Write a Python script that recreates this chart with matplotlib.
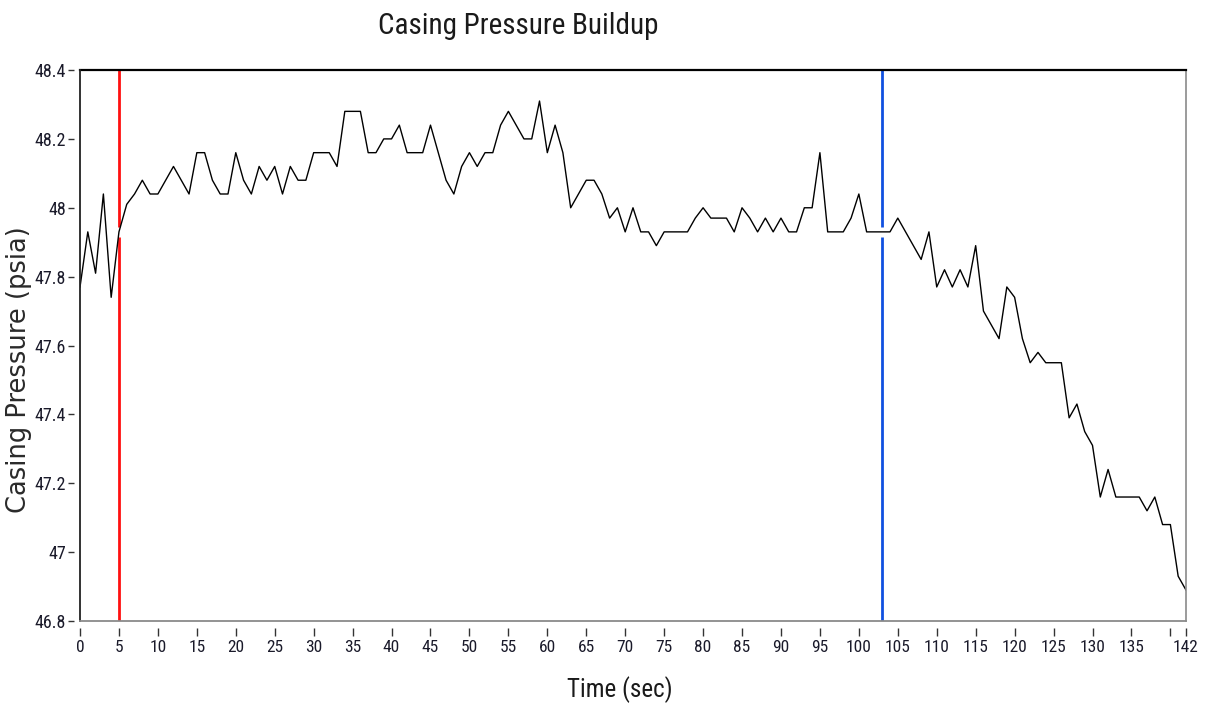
"""Casing pressure buildup trace with two time markers."""
import matplotlib
matplotlib.use('Agg')
import matplotlib.pyplot as plt

# narrow face for the numbers and titles, plain fallbacks after it
narrow = ['Roboto Condensed', 'Liberation Sans Narrow', 'Roboto', 'DejaVu Sans']
plt.rcParams['font.family'] = narrow

# time (sec) and casing pressure (psia)
time_s = [0, 1, 2, 3, 4, 5, 6, 7, 8, 9, 10, 11, 12, 13, 14, 15, 16, 17, 18, 19,
          20, 21, 22, 23, 24, 25, 26, 27, 28, 29, 30, 31, 32, 33, 34, 35, 36, 37, 38, 39,
          40, 41, 42, 43, 44, 45, 46, 47, 48, 49, 50, 51, 52, 53, 54, 55, 56, 57, 58, 59,
          60, 61, 62, 63, 64, 65, 66, 67, 68, 69, 70, 71, 72, 73, 74, 75, 76, 77, 78, 79,
          80, 81, 82, 83, 84, 85, 86, 87, 88, 89, 90, 91, 92, 93, 94, 95, 96, 97, 98, 99,
          100, 101, 102, 103, 104, 105, 106, 107, 108, 109, 110, 111, 112, 113, 114, 115,
          116, 117, 118, 119, 120, 121, 122, 123, 124, 125, 126, 127, 128, 129, 130, 131,
          132, 133, 134, 135, 136, 137, 138, 139, 140, 141, 142]
pressure = [47.77, 47.93, 47.81, 48.04, 47.74, 47.93, 48.01, 48.04, 48.08, 48.04,
            48.04, 48.08, 48.12, 48.08, 48.04, 48.16, 48.16, 48.08, 48.04, 48.04,
            48.16, 48.08, 48.04, 48.12, 48.08, 48.12, 48.04, 48.12, 48.08, 48.08,
            48.16, 48.16, 48.16, 48.12, 48.28, 48.28, 48.28, 48.16, 48.16, 48.20,
            48.20, 48.24, 48.16, 48.16, 48.16, 48.24, 48.16, 48.08, 48.04, 48.12,
            48.16, 48.12, 48.16, 48.16, 48.24, 48.28, 48.24, 48.20, 48.20, 48.31,
            48.16, 48.24, 48.16, 48.00, 48.04, 48.08, 48.08, 48.04, 47.97, 48.00,
            47.93, 48.00, 47.93, 47.93, 47.89, 47.93, 47.93, 47.93, 47.93, 47.97,
            48.00, 47.97, 47.97, 47.97, 47.93, 48.00, 47.97, 47.93, 47.97, 47.93,
            47.97, 47.93, 47.93, 48.00, 48.00, 48.16, 47.93, 47.93, 47.93, 47.97,
            48.04, 47.93, 47.93, 47.93, 47.93, 47.97, 47.93, 47.89, 47.85, 47.93,
            47.77, 47.82, 47.77, 47.82, 47.77, 47.89, 47.70, 47.66, 47.62, 47.77,
            47.74, 47.62, 47.55, 47.58, 47.55, 47.55, 47.55, 47.39, 47.43, 47.35,
            47.31, 47.16, 47.24, 47.16, 47.16, 47.16, 47.16, 47.12, 47.16, 47.08,
            47.08, 46.93, 46.89]

# cursors: time (sec), pressure where the cursor sits, colour
cursor_t = [5, 103]
cursor_p = [47.93, 47.93]
cursor_colors = ['#ff1010', '#1050e0']

x_ticks = [0, 5, 10, 15, 20, 25, 30, 35, 40, 45, 50, 55, 60, 65, 70, 75, 80, 85,
           90, 95, 100, 105, 110, 115, 120, 125, 130, 135, 140, 142]
x_labels = ['0', '5', '10', '15', '20', '25', '30', '35', '40', '45', '50', '55',
            '60', '65', '70', '75', '80', '85', '90', '95', '100', '105', '110',
            '115', '120', '125', '130', '135', '', '142']
y_ticks = [46.8, 47.0, 47.2, 47.4, 47.6, 47.8, 48.0, 48.2, 48.4]
y_labels = ['46.8', '47', '47.2', '47.4', '47.6', '47.8', '48', '48.2', '48.4']

fig = plt.figure(figsize=(12.05, 7.11), dpi=100)
ax = fig.add_axes([0.0664, 0.1266, 0.9178, 0.7749])

ymin, ymax = 46.8, 48.4
gap = 0.015  # small break in the cursor line at its point
for t, p, c in zip(cursor_t, cursor_p, cursor_colors):
    ax.vlines([t, t], [ymin, p + gap], [p - gap, ymax], colors=c, linewidth=2.0, zorder=1)
ax.plot(time_s, pressure, color='black', linewidth=1.0, zorder=2)

ax.set_xlim(0, 142)
ax.set_ylim(ymin, ymax)

# ticks sit a few pixels away from the frame (set positions before the ticks)
ax.spines['left'].set_position(('outward', 4))
ax.spines['bottom'].set_position(('outward', 5))
ax.spines['left'].set_color('none')
ax.spines['bottom'].set_color('none')
ax.spines['top'].set_color('black')
ax.spines['top'].set_linewidth(1.6)
ax.spines['right'].set_color('#8a8a8a')
ax.spines['right'].set_linewidth(1.2)
ax.plot([0, 0], [0, 1], transform=ax.transAxes, color='#222222', linewidth=1.3,
        clip_on=False, zorder=3)
ax.plot([0, 1], [0, 0], transform=ax.transAxes, color='#8a8a8a', linewidth=1.3,
        clip_on=False, zorder=3)

ax.set_xticks(x_ticks)
ax.set_xticklabels(x_labels)
ax.set_yticks(y_ticks)
ax.set_yticklabels(y_labels)
ax.tick_params(axis='x', direction='out', length=6, width=1.0, pad=3, color='#333333',
               labelsize=12.5, labelcolor='#1a1a2a')
ax.tick_params(axis='y', direction='out', length=4, width=1.0, pad=2, color='#333333',
               labelsize=13, labelcolor='#1a1a2a')

fig.text(0.43, 0.963, 'Casing Pressure Buildup', fontsize=21, ha='center', va='center',
         color='#1a1a1a')
fig.text(0.514, 0.03, 'Time (sec)', fontsize=18, ha='center', va='center',
         color='#1a1a1a')
fig.text(0.0155, 0.48, 'Casing Pressure (psia)', fontsize=18.5, rotation=90,
         ha='center', va='center', color='#2a2a2a', family='DejaVu Sans')

fig.savefig('out.png', dpi=100)
